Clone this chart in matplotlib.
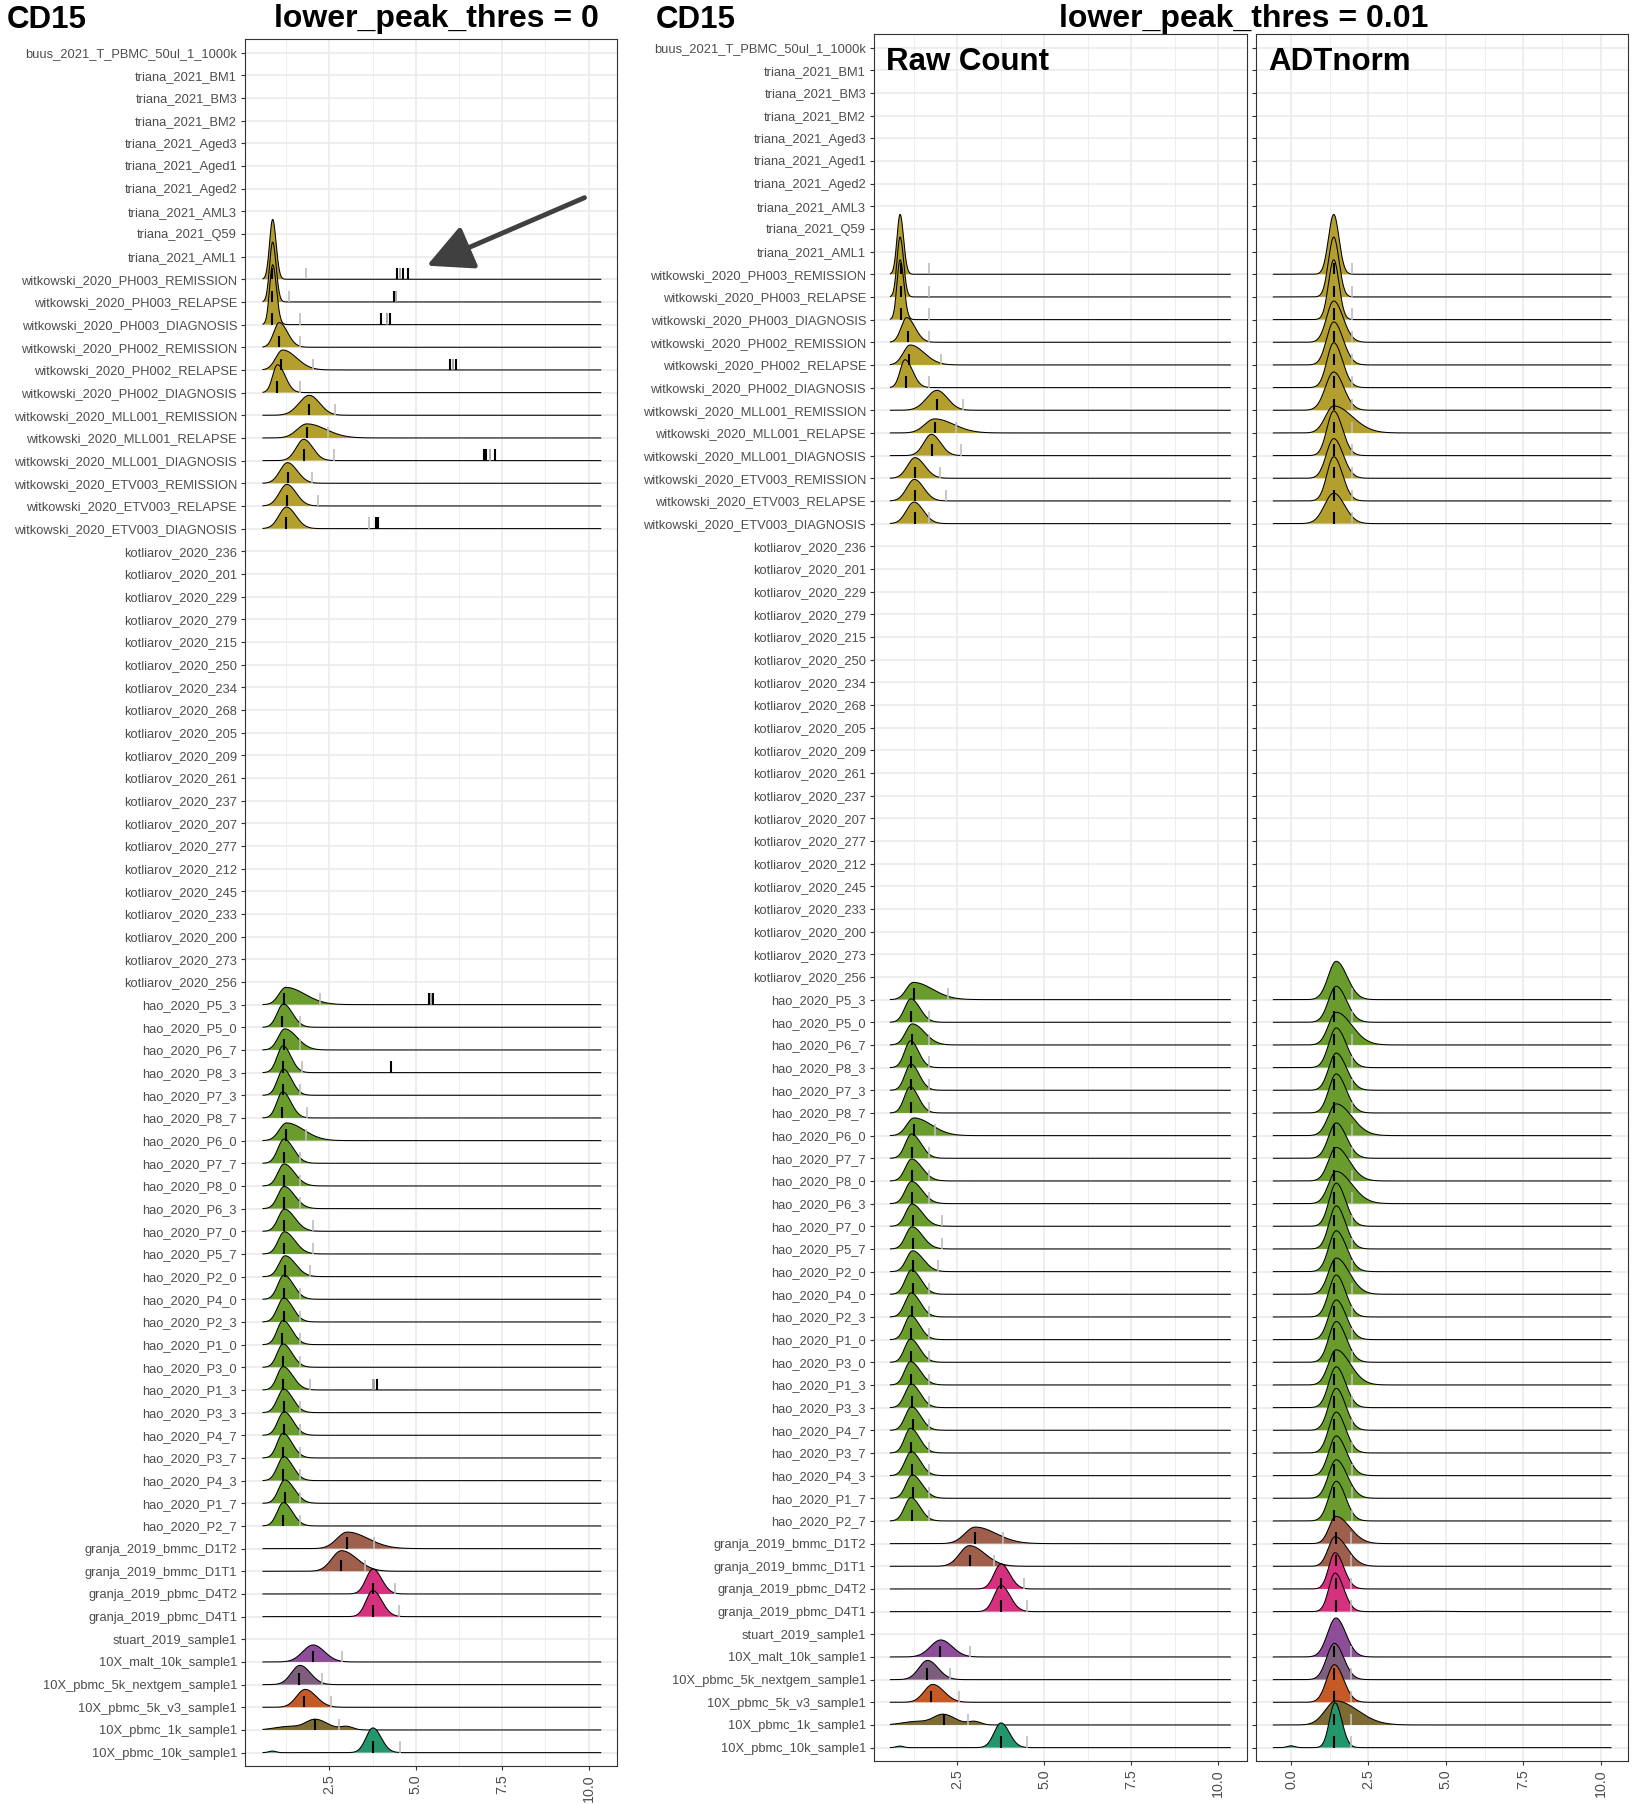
import numpy as np
import matplotlib
matplotlib.use("Agg")
import matplotlib.pyplot as plt

plt.rcParams['font.family'] = ['Liberation Sans', 'DejaVu Sans']

# ---------------------------------------------------------------- data
# samples, top to bottom
samples = [
    "buus_2021_T_PBMC_50ul_1_1000k", "triana_2021_BM1", "triana_2021_BM3", "triana_2021_BM2",
    "triana_2021_Aged3", "triana_2021_Aged1", "triana_2021_Aged2", "triana_2021_AML3",
    "triana_2021_Q59", "triana_2021_AML1",
    "witkowski_2020_PH003_REMISSION", "witkowski_2020_PH003_RELAPSE", "witkowski_2020_PH003_DIAGNOSIS",
    "witkowski_2020_PH002_REMISSION", "witkowski_2020_PH002_RELAPSE", "witkowski_2020_PH002_DIAGNOSIS",
    "witkowski_2020_MLL001_REMISSION", "witkowski_2020_MLL001_RELAPSE", "witkowski_2020_MLL001_DIAGNOSIS",
    "witkowski_2020_ETV003_REMISSION", "witkowski_2020_ETV003_RELAPSE", "witkowski_2020_ETV003_DIAGNOSIS",
    "kotliarov_2020_236", "kotliarov_2020_201", "kotliarov_2020_229", "kotliarov_2020_279",
    "kotliarov_2020_215", "kotliarov_2020_250", "kotliarov_2020_234", "kotliarov_2020_268",
    "kotliarov_2020_205", "kotliarov_2020_209", "kotliarov_2020_261", "kotliarov_2020_237",
    "kotliarov_2020_207", "kotliarov_2020_277", "kotliarov_2020_212", "kotliarov_2020_245",
    "kotliarov_2020_233", "kotliarov_2020_200", "kotliarov_2020_273", "kotliarov_2020_256",
    "hao_2020_P5_3", "hao_2020_P5_0", "hao_2020_P6_7", "hao_2020_P8_3", "hao_2020_P7_3", "hao_2020_P8_7",
    "hao_2020_P6_0", "hao_2020_P7_7", "hao_2020_P8_0", "hao_2020_P6_3", "hao_2020_P7_0", "hao_2020_P5_7",
    "hao_2020_P2_0", "hao_2020_P4_0", "hao_2020_P2_3", "hao_2020_P1_0", "hao_2020_P3_0", "hao_2020_P1_3",
    "hao_2020_P3_3", "hao_2020_P4_7", "hao_2020_P3_7", "hao_2020_P4_3", "hao_2020_P1_7", "hao_2020_P2_7",
    "granja_2019_bmmc_D1T2", "granja_2019_bmmc_D1T1", "granja_2019_pbmc_D4T2", "granja_2019_pbmc_D4T1",
    "stuart_2019_sample1", "10X_malt_10k_sample1", "10X_pbmc_5k_nextgem_sample1",
    "10X_pbmc_5k_v3_sample1", "10X_pbmc_1k_sample1", "10X_pbmc_10k_sample1",
]

# samples that have a density, top to bottom
ridge_rows = samples[10:22] + samples[42:70] + samples[71:76]

study_colors = {
    "witkowski": "#B39F2D", "hao": "#699C2C",
    "granja_2019_bmmc": "#9E5F4C", "granja_2019_pbmc": "#D6317F",
    "10X_malt": "#8D4D99", "10X_pbmc_5k_nextgem": "#7E5E7E", "10X_pbmc_5k_v3": "#C65A27",
    "10X_pbmc_1k": "#7C6B33", "10X_pbmc_10k": "#24966E",
}

# raw count densities (mode, left/right spread, height in rows) - shared by left panel and "Raw Count"
raw_mode = [0.86, 0.86, 0.86, 1.05, 1.15, 1.00, 1.92, 1.85, 1.76, 1.29, 1.27, 1.26,
            1.24, 1.17, 1.21, 1.16, 1.17, 1.15, 1.26, 1.19, 1.19, 1.19, 1.20, 1.20,
            1.22, 1.19, 1.18, 1.16, 1.16, 1.16, 1.18, 1.19, 1.16, 1.18, 1.21, 1.17,
            3.02, 2.85, 3.76, 3.76,
            2.03, 1.65, 1.80, 2.10, 3.76]
raw_sdl = [0.09, 0.09, 0.09, 0.16, 0.20, 0.14, 0.30, 0.28, 0.22, 0.22, 0.22, 0.22,
           0.20, 0.18, 0.19, 0.17, 0.17, 0.17, 0.21, 0.18, 0.18, 0.18, 0.18, 0.18,
           0.18, 0.18, 0.18, 0.17, 0.17, 0.17, 0.18, 0.18, 0.17, 0.18, 0.18, 0.18,
           0.30, 0.28, 0.20, 0.20,
           0.30, 0.25, 0.25, 0.28, 0.20]
raw_sdr = [0.10, 0.10, 0.11, 0.24, 0.40, 0.22, 0.30, 0.55, 0.26, 0.28, 0.27, 0.27,
           0.55, 0.26, 0.35, 0.23, 0.24, 0.24, 0.50, 0.27, 0.30, 0.30, 0.30, 0.30,
           0.30, 0.27, 0.26, 0.26, 0.26, 0.28, 0.26, 0.26, 0.26, 0.26, 0.28, 0.26,
           0.60, 0.45, 0.25, 0.26,
           0.33, 0.30, 0.32, 0.35, 0.24]
raw_height = [2.64, 2.64, 2.64, 1.09, 0.88, 1.23, 0.88, 0.62, 0.94, 0.91, 0.95, 0.95,
              0.76, 1.03, 0.93, 1.18, 1.15, 1.15, 0.78, 1.07, 0.97, 0.98, 0.98, 0.98,
              0.92, 1.07, 1.06, 1.06, 1.03, 1.03, 1.04, 1.04, 1.09, 1.06, 1.03, 1.03,
              0.73, 0.91, 1.10, 1.15,
              0.75, 0.85, 0.79, 0.46, 1.09]
# extra small bumps: sample, location, spread, height
raw_bump_sample = ["10X_pbmc_1k_sample1", "10X_pbmc_1k_sample1", "10X_pbmc_10k_sample1"]
raw_bump_x = [1.30, 3.00, 0.85]
raw_bump_sd = [0.38, 0.18, 0.10]
raw_bump_h = [0.15, 0.15, 0.07]

# ADTnorm densities
adt_mode = [1.38] * 12 + [1.46] * 24 + [1.45, 1.42, 1.42, 1.42] + [1.45, 1.40, 1.40, 1.45, 1.42]
adt_sdl = [0.17, 0.17, 0.17, 0.23, 0.23, 0.22, 0.27, 0.27, 0.22, 0.24, 0.22, 0.30,
           0.26, 0.25, 0.25, 0.24, 0.24, 0.24, 0.26, 0.25, 0.25, 0.25, 0.23, 0.23,
           0.24, 0.25, 0.24, 0.24, 0.24, 0.25, 0.24, 0.24, 0.24, 0.24, 0.25, 0.24,
           0.22, 0.22, 0.20, 0.20,
           0.27, 0.25, 0.25, 0.35, 0.18]
adt_sdr = [0.17, 0.17, 0.17, 0.30, 0.30, 0.28, 0.32, 0.60, 0.28, 0.30, 0.28, 0.35,
           0.35, 0.33, 0.50, 0.32, 0.33, 0.32, 0.50, 0.33, 0.42, 0.50, 0.30, 0.30,
           0.33, 0.42, 0.30, 0.32, 0.32, 0.45, 0.30, 0.30, 0.30, 0.33, 0.35, 0.30,
           0.45, 0.40, 0.28, 0.28,
           0.32, 0.30, 0.30, 0.70, 0.22]
adt_height = [2.64, 2.64, 2.64, 1.82, 1.90, 1.98, 1.69, 1.19, 1.97, 1.75, 1.95, 1.34,
              1.69, 1.59, 1.44, 1.75, 1.64, 1.72, 1.40, 1.56, 1.48, 1.42, 1.90, 1.90,
              1.80, 1.60, 1.85, 1.75, 1.80, 1.55, 1.80, 1.85, 1.80, 1.75, 1.70, 1.75,
              1.20, 1.30, 1.60, 1.70,
              1.72, 1.60, 1.66, 1.06, 1.98]
adt_bump_sample = ["10X_pbmc_10k_sample1", "granja_2019_pbmc_D4T1"]
adt_bump_x = [0.00, 4.50]
adt_bump_sd = [0.12, 0.60]
adt_bump_h = [0.08, 0.015]

# landmarks (black = peak, grey = valley)
left_peak = [0.85, 0.85, 0.85, 1.05, 1.10, 1.00, 1.92, 1.85, 1.76, 1.29, 1.27, 1.26,
             1.20, 1.14, 1.19, 1.15, 1.16, 1.13, 1.24, 1.18, 1.18, 1.18, 1.20, 1.20,
             1.22, 1.19, 1.18, 1.14, 1.15, 1.15, 1.18, 1.20, 1.15, 1.17, 1.21, 1.16,
             3.02, 2.85, 3.76, 3.76,
             2.03, 1.61, 1.77, 2.09, 3.76]
left_valley = [1.82, 1.33, 1.65, 1.66, 2.03, 1.66, 2.65, 2.46, 2.62, 2.00, 2.16, 3.65,
               2.24, 1.66, 1.66, 1.72, 1.66, 1.85, 1.83, 1.66, 1.66, 1.66, 2.03, 2.04,
               1.93, 1.66, 1.66, 1.66, 1.66, 1.93, 1.66, 1.66, 1.66, 1.66, 1.66, 1.66,
               3.80, 3.54, 4.41, 4.52,
               2.88, 2.29, 2.56, 2.78, 4.54]
# extra landmarks found with lower_peak_thres = 0
extra_sample = ["witkowski_2020_PH003_REMISSION"] * 4 + ["witkowski_2020_PH003_RELAPSE"] * 2 \
    + ["witkowski_2020_PH003_DIAGNOSIS"] * 3 + ["witkowski_2020_PH002_RELAPSE"] * 3 \
    + ["witkowski_2020_MLL001_DIAGNOSIS"] * 4 + ["witkowski_2020_ETV003_DIAGNOSIS"] * 2 \
    + ["hao_2020_P5_3"] * 3 + ["hao_2020_P8_3"] + ["hao_2020_P1_3"] * 3
extra_x = [4.47, 4.55, 4.63, 4.78, 4.37, 4.42, 3.98, 4.17, 4.24, 6.00, 6.07, 6.15,
           6.97, 7.02, 7.15, 7.29, 3.84, 3.90, 5.37, 5.43, 5.49, 4.29, 3.76, 3.80, 3.87]
extra_kind = ["p", "v", "p", "p", "p", "v", "p", "v", "p", "p", "v", "p",
              "p", "p", "v", "p", "p", "p", "p", "v", "p", "p", "v", "v", "p"]

raw_peak = [0.875, 0.875, 0.875, 1.08, 1.12, 1.04, 1.93, 1.87, 1.77, 1.28, 1.28, 1.28,
            1.25, 1.17, 1.20, 1.17, 1.18, 1.16, 1.27, 1.21, 1.21, 1.21, 1.22, 1.22,
            1.24, 1.22, 1.21, 1.17, 1.17, 1.17, 1.21, 1.22, 1.17, 1.21, 1.24, 1.19,
            3.01, 2.87, 3.77, 3.77,
            2.00, 1.62, 1.76, 2.11, 3.77]
raw_valley = [1.68, 1.68, 1.68, 1.68, 2.04, 1.68, 2.66, 2.47, 2.62, 2.00, 2.18, 1.68,
              2.25, 1.68, 1.68, 1.68, 1.68, 1.68, 1.85, 1.68, 1.68, 1.68, 2.05, 2.07,
              1.95, 1.68, 1.68, 1.68, 1.68, 1.68, 1.68, 1.68, 1.68, 1.68, 1.68, 1.68,
              3.81, 3.55, 4.41, 4.52,
              2.87, 2.28, 2.56, 2.80, 4.52]
adt_peak = [1.38] * 36 + [1.44] * 4 + [1.40] * 5
adt_valley = [1.97] * 36 + [1.95] * 9

raw_range = (0.58, 10.35)
adt_range = (-0.57, 10.33)

# ---------------------------------------------------------------- helpers
W, H = 1636, 1804
n = len(samples)
ypos = {s: n - 1 - i for i, s in enumerate(samples)}
GRID = "#EBEBEB"
TXT = "#4D4D4D"


def color_of(name):
    for key in sorted(study_colors, key=len, reverse=True):
        if name.startswith(key):
            return study_colors[key]
    return "grey"


def density(xs, k, mode, sdl, sdr, height, bs, bx, bsd, bh):
    sd = np.where(xs < mode[k], sdl[k], sdr[k])
    d = height[k] * np.exp(-0.5 * ((xs - mode[k]) / sd) ** 2)
    for s, x0, s0, h0 in zip(bs, bx, bsd, bh):
        if s == ridge_rows[k]:
            d = d + h0 * np.exp(-0.5 * ((xs - x0) / s0) ** 2)
    return d


def style_axes(ax, xlim, xticks, minor, labels):
    ax.set_xlim(*xlim)
    ax.set_ylim(-0.59, n - 1 + 0.6)
    ax.set_xticks(xticks)
    ax.set_xticklabels(["%.1f" % t for t in xticks], rotation=90)
    ax.set_xticks(minor, minor=True)
    ax.set_yticks([ypos[s] for s in samples])
    ax.set_yticklabels(samples if labels else [])
    ax.tick_params(axis="both", which="major", length=3.2, width=0.8, color="#333333",
                   labelsize=9.3, labelcolor=TXT, pad=2.5)
    ax.tick_params(axis="x", which="major", labelsize=10.3)
    ax.tick_params(axis="x", which="minor", length=0)
    ax.grid(True, which="major", color=GRID, lw=1.2)
    ax.grid(True, which="minor", axis="x", color=GRID, lw=0.6)
    ax.set_axisbelow(True)
    for sp in ax.spines.values():
        sp.set_color("#333333")
        sp.set_linewidth(0.8)


def draw_panel(ax, xr, mode, sdl, sdr, height, bumps, peaks, valleys):
    xs = np.linspace(xr[0], xr[1], 2000)
    for k, name in enumerate(ridge_rows):
        base = ypos[name]
        d = density(xs, k, mode, sdl, sdr, height, *bumps)
        ax.fill_between(xs, base, base + d, facecolor=color_of(name), edgecolor="none",
                        zorder=10 + 2 * k)
        ax.plot(xs, base + d, color="black", lw=0.75, zorder=11 + 2 * k)
    for k, name in enumerate(ridge_rows):
        base = ypos[name]
        ax.vlines(valleys[k], base, base + 0.5, color="#BDBDBD", lw=1.2, zorder=300)
        ax.vlines(peaks[k], base, base + 0.5, color="black", lw=1.5, zorder=301)


def px_axes(x0, x1, y0, y1):
    return [x0 / W, 1 - y1 / H, (x1 - x0) / W, (y1 - y0) / H]


fig = plt.figure(figsize=(W / 100, H / 100), dpi=100)

ax_left = fig.add_axes(px_axes(245, 617, 39, 1766))
ax_raw = fig.add_axes(px_axes(874, 1247, 34, 1761))
ax_adt = fig.add_axes(px_axes(1256, 1628, 34, 1761))

raw_bumps = (raw_bump_sample, raw_bump_x, raw_bump_sd, raw_bump_h)
adt_bumps = (adt_bump_sample, adt_bump_x, adt_bump_sd, adt_bump_h)

# left: lower_peak_thres = 0
draw_panel(ax_left, raw_range, raw_mode, raw_sdl, raw_sdr, raw_height, raw_bumps, left_peak, left_valley)
for s, x, kind in zip(extra_sample, extra_x, extra_kind):
    ax_left.vlines(x, ypos[s], ypos[s] + 0.5, color="black" if kind == "p" else "#9A9A9A",
                   lw=1.5 if kind == "p" else 1.2, zorder=302)
style_axes(ax_left, (0.06, 10.82), [2.5, 5.0, 7.5, 10.0], [1.25, 3.75, 6.25, 8.75], True)
ax_left.annotate("", xy=(5.32, ypos["triana_2021_AML1"] - 0.4),
                 xytext=(9.88, ypos["triana_2021_AML3"] + 0.6),
                 arrowprops=dict(arrowstyle="-|>,head_length=1.4,head_width=0.7", lw=3.5,
                                 color="#404040", shrinkA=0, shrinkB=0, mutation_scale=20),
                 zorder=400)

# right: lower_peak_thres = 0.01
draw_panel(ax_raw, raw_range, raw_mode, raw_sdl, raw_sdr, raw_height, raw_bumps, raw_peak, raw_valley)
style_axes(ax_raw, (0.11, 10.83), [2.5, 5.0, 7.5, 10.0], [1.25, 3.75, 6.25, 8.75], True)
draw_panel(ax_adt, adt_range, adt_mode, adt_sdl, adt_sdr, adt_height, adt_bumps, adt_peak, adt_valley)
style_axes(ax_adt, (-1.13, 10.88), [0.0, 2.5, 5.0, 7.5, 10.0], [1.25, 3.75, 6.25, 8.75], False)

for ax, lab in ((ax_raw, "Raw Count"), (ax_adt, "ADTnorm")):
    ax.text(12 / 372, 1 - 36 / 1727, lab, transform=ax.transAxes, fontsize=22.5,
            fontweight="bold", ha="left", va="baseline", zorder=500)

# titles
fig.text(7 / W, 1 - 28 / H, "CD15", fontsize=22.5, fontweight="bold", ha="left", va="baseline")
fig.text(436 / W, 1 - 27 / H, "lower_peak_thres = 0", fontsize=23, fontweight="bold",
         ha="center", va="baseline")
fig.text(656 / W, 1 - 28 / H, "CD15", fontsize=22.5, fontweight="bold", ha="left", va="baseline")
fig.text(1244 / W, 1 - 27 / H, "lower_peak_thres = 0.01", fontsize=23, fontweight="bold",
         ha="center", va="baseline")

fig.savefig("out.png", dpi=100, facecolor="white")
